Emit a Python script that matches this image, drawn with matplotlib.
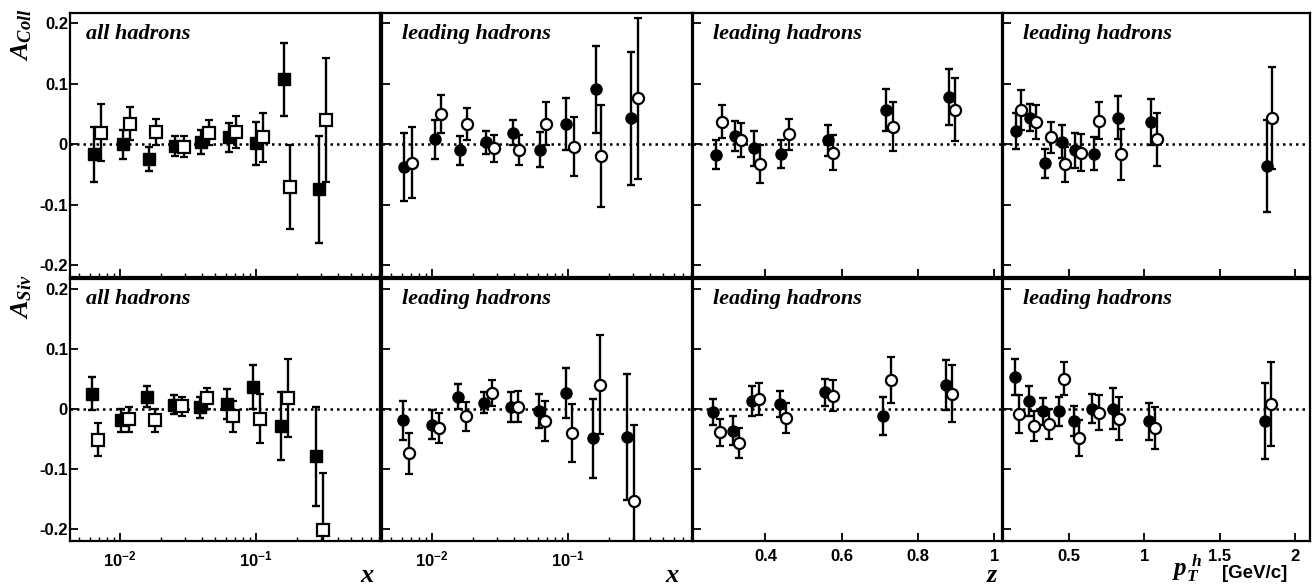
import numpy as np
import matplotlib
matplotlib.use("Agg")
import matplotlib.pyplot as plt
from matplotlib.ticker import LogLocator, NullFormatter, FixedLocator

plt.rcParams['mathtext.fontset'] = 'custom'
plt.rcParams['mathtext.it'] = 'Liberation Serif:italic:bold'
plt.rcParams['mathtext.rm'] = 'Liberation Serif:bold'
plt.rcParams['mathtext.bf'] = 'Liberation Sans:bold'

# ---- Collins, all hadrons vs x (filled / open squares)
coll_all_x_f = [0.0064, 0.0106, 0.0163, 0.0254, 0.0394, 0.063, 0.100, 0.161, 0.287]
coll_all_a_f = [-0.017, 0.000, -0.024, -0.003, 0.004, 0.011, 0.001, 0.107, -0.075]
coll_all_e_f = [0.045, 0.024, 0.020, 0.016, 0.020, 0.024, 0.036, 0.061, 0.088]
coll_all_x_o = [0.0072, 0.0119, 0.0184, 0.0294, 0.0454, 0.0705, 0.112, 0.176, 0.327]
coll_all_a_o = [0.019, 0.034, 0.020, -0.004, 0.019, 0.020, 0.011, -0.071, 0.040]
coll_all_e_o = [0.047, 0.027, 0.021, 0.018, 0.021, 0.027, 0.041, 0.069, 0.103]

# ---- Sivers, all hadrons vs x
siv_all_x_f = [0.0062, 0.0102, 0.0158, 0.0248, 0.0388, 0.0613, 0.0955, 0.153, 0.276]
siv_all_a_f = [0.026, -0.019, 0.021, 0.007, 0.003, 0.009, 0.037, -0.028, -0.079]
siv_all_e_f = [0.027, 0.019, 0.017, 0.016, 0.018, 0.025, 0.036, 0.057, 0.082]
siv_all_x_o = [0.0069, 0.0116, 0.0181, 0.0284, 0.0436, 0.068, 0.106, 0.171, 0.309]
siv_all_a_o = [-0.051, -0.017, -0.019, 0.005, 0.018, -0.012, -0.016, 0.018, -0.202]
siv_all_e_o = [0.028, 0.021, 0.019, 0.016, 0.018, 0.026, 0.041, 0.065, 0.096]

# ---- Collins, leading hadrons vs x (filled / open circles)
coll_lx_x_f = [0.0062, 0.0105, 0.0162, 0.0248, 0.0392, 0.0617, 0.097, 0.160, 0.289]
coll_lx_a_f = [-0.038, 0.008, -0.010, 0.003, 0.019, -0.009, 0.034, 0.091, 0.043]
coll_lx_e_f = [0.057, 0.032, 0.024, 0.019, 0.021, 0.029, 0.043, 0.072, 0.110]
coll_lx_x_o = [0.0071, 0.0117, 0.0182, 0.0286, 0.0438, 0.069, 0.110, 0.174, 0.325]
coll_lx_a_o = [-0.031, 0.050, 0.033, -0.007, -0.010, 0.034, -0.004, -0.020, 0.076]
coll_lx_e_o = [0.059, 0.032, 0.026, 0.022, 0.025, 0.035, 0.049, 0.084, 0.133]

# ---- Sivers, leading hadrons vs x
siv_lx_x_f = [0.0061, 0.0100, 0.0155, 0.0241, 0.038, 0.0607, 0.096, 0.153, 0.270]
siv_lx_a_f = [-0.019, -0.026, 0.021, 0.011, 0.004, -0.003, 0.027, -0.049, -0.046]
siv_lx_e_f = [0.033, 0.024, 0.021, 0.018, 0.025, 0.029, 0.042, 0.066, 0.105]
siv_lx_x_o = [0.0068, 0.0112, 0.0177, 0.0278, 0.0431, 0.0672, 0.107, 0.170, 0.303]
siv_lx_a_o = [-0.074, -0.031, -0.012, 0.027, 0.004, -0.020, -0.040, 0.041, -0.154]
siv_lx_e_o = [0.034, 0.025, 0.024, 0.021, 0.026, 0.033, 0.049, 0.082, 0.128]

# ---- Collins, leading hadrons vs z
coll_z_x_f = [0.269, 0.319, 0.371, 0.441, 0.563, 0.717, 0.882]
coll_z_a_f = [-0.018, 0.014, -0.007, -0.017, 0.006, 0.057, 0.078]
coll_z_e_f = [0.024, 0.025, 0.029, 0.023, 0.026, 0.035, 0.046]
coll_z_x_o = [0.287, 0.337, 0.386, 0.461, 0.578, 0.733, 0.896]
coll_z_a_o = [0.037, 0.007, -0.033, 0.016, -0.014, 0.029, 0.057]
coll_z_e_o = [0.027, 0.028, 0.031, 0.026, 0.029, 0.040, 0.052]

# ---- Sivers, leading hadrons vs z
siv_z_x_f = [0.262, 0.315, 0.365, 0.437, 0.557, 0.709, 0.874]
siv_z_a_f = [-0.005, -0.036, 0.013, 0.009, 0.028, -0.011, 0.040]
siv_z_e_f = [0.022, 0.024, 0.025, 0.022, 0.022, 0.032, 0.042]
siv_z_x_o = [0.280, 0.330, 0.383, 0.454, 0.576, 0.728, 0.889]
siv_z_a_o = [-0.039, -0.057, 0.017, -0.015, 0.022, 0.049, 0.026]
siv_z_e_o = [0.022, 0.025, 0.027, 0.025, 0.026, 0.038, 0.047]

# ---- Collins, leading hadrons vs pT
coll_pt_x_f = [0.146, 0.241, 0.341, 0.452, 0.540, 0.666, 0.821, 1.042, 1.813]
coll_pt_a_f = [0.022, 0.044, -0.032, 0.004, -0.010, -0.016, 0.044, 0.036, -0.036]
coll_pt_e_f = [0.030, 0.022, 0.024, 0.027, 0.029, 0.027, 0.035, 0.038, 0.076]
coll_pt_x_o = [0.181, 0.279, 0.380, 0.469, 0.578, 0.699, 0.845, 1.082, 1.850]
coll_pt_a_o = [0.057, 0.036, 0.011, -0.033, -0.014, 0.039, -0.017, 0.008, 0.043]
coll_pt_e_o = [0.033, 0.028, 0.026, 0.029, 0.031, 0.030, 0.042, 0.044, 0.085]

# ---- Sivers, leading hadrons vs pT
siv_pt_x_f = [0.137, 0.230, 0.329, 0.429, 0.529, 0.651, 0.794, 1.031, 1.802]
siv_pt_a_f = [0.053, 0.014, -0.004, -0.004, -0.020, 0.001, 0.001, -0.020, -0.020]
siv_pt_e_f = [0.030, 0.025, 0.022, 0.024, 0.025, 0.024, 0.034, 0.031, 0.063]
siv_pt_x_o = [0.163, 0.268, 0.363, 0.467, 0.562, 0.695, 0.832, 1.069, 1.839]
siv_pt_a_o = [-0.008, -0.028, -0.025, 0.051, -0.048, -0.006, -0.016, -0.031, 0.008]
siv_pt_e_o = [0.032, 0.025, 0.025, 0.027, 0.030, 0.029, 0.036, 0.035, 0.070]

panel_labels = ["all hadrons", "leading hadrons", "leading hadrons", "leading hadrons"]

W, H = 1315, 586
fig = plt.figure(figsize=(W / 100, H / 100), dpi=100)

lefts = [70, 382, 693, 1003]
widths = [310, 310, 309, 307]
rows = [(13, 277), (279, 541)]

tick_font = dict(family='Liberation Sans', weight='bold', size=12)
lab_font = dict(family='Liberation Serif', weight='bold', style='italic')


def draw(ax, xf, af, ef, xo, ao, eo, marker):
    ms = 8.5 if marker == 's' else 8
    ax.errorbar(xf, af, yerr=ef, fmt=marker, ms=ms, mfc='black', mec='black',
                ecolor='black', elinewidth=1.7, capsize=2.8, capthick=1.7, zorder=3)
    ax.errorbar(xo, ao, yerr=eo, fmt=marker, ms=ms, mfc='white', mec='black', mew=1.6,
                ecolor='black', elinewidth=1.7, capsize=2.8, capthick=1.7, zorder=4)


def style(ax, col, row):
    ax.set_ylim(-0.22, 0.217)
    ax.axhline(0, color='black', lw=1.8, ls=(0, (1, 1.6)), zorder=1)
    ax.set_yticks([-0.2, -0.1, 0, 0.1, 0.2])
    for s in ax.spines.values():
        s.set_linewidth(1.6)
    ax.tick_params(axis='both', which='major', direction='in', length=6, width=1.3,
                   top=False, right=False, pad=6)
    ax.tick_params(axis='both', which='minor', direction='in', length=3, width=1.0,
                   top=False, right=False)
    ax.tick_params(axis='y', pad=1.5)
    if col == 0:
        ax.set_yticklabels(['-0.2', '-0.1', '0', '0.1', '0.2'], fontdict=tick_font)
    else:
        ax.set_yticklabels([])
    if col < 2:
        ax.set_xscale('log')
        ax.set_xlim(0.0043, 0.81)
        ax.xaxis.set_major_locator(FixedLocator([0.01, 0.1]))
        ax.xaxis.set_minor_locator(LogLocator(base=10, subs=np.arange(2, 10)))
        ax.xaxis.set_minor_formatter(NullFormatter())
        labs = [r"$\mathbf{10^{-2}}$", r"$\mathbf{10^{-1}}$"]
    elif col == 2:
        ax.set_xlim(0.21, 1.02)
        ax.set_xticks([0.4, 0.6, 0.8, 1.0])
        labs = ['0.4', '0.6', '0.8', '1']
    else:
        ax.set_xlim(0.06, 2.1)
        ax.set_xticks([0.5, 1.0, 1.5, 2.0])
        labs = ['0.5', '1', '1.5', '2']
    if row == 1:
        ax.set_xticklabels(labs, fontdict=tick_font)
    else:
        ax.set_xticklabels([])
    ax.text(0.05 if col == 0 else 0.065, 0.96, panel_labels[col], transform=ax.transAxes,
            ha='left', va='top', fontsize=16, **lab_font)


data = [
    [(coll_all_x_f, coll_all_a_f, coll_all_e_f, coll_all_x_o, coll_all_a_o, coll_all_e_o, 's'),
     (coll_lx_x_f, coll_lx_a_f, coll_lx_e_f, coll_lx_x_o, coll_lx_a_o, coll_lx_e_o, 'o'),
     (coll_z_x_f, coll_z_a_f, coll_z_e_f, coll_z_x_o, coll_z_a_o, coll_z_e_o, 'o'),
     (coll_pt_x_f, coll_pt_a_f, coll_pt_e_f, coll_pt_x_o, coll_pt_a_o, coll_pt_e_o, 'o')],
    [(siv_all_x_f, siv_all_a_f, siv_all_e_f, siv_all_x_o, siv_all_a_o, siv_all_e_o, 's'),
     (siv_lx_x_f, siv_lx_a_f, siv_lx_e_f, siv_lx_x_o, siv_lx_a_o, siv_lx_e_o, 'o'),
     (siv_z_x_f, siv_z_a_f, siv_z_e_f, siv_z_x_o, siv_z_a_o, siv_z_e_o, 'o'),
     (siv_pt_x_f, siv_pt_a_f, siv_pt_e_f, siv_pt_x_o, siv_pt_a_o, siv_pt_e_o, 'o')],
]

for r, (top, bot) in enumerate(rows):
    for c in range(4):
        ax = fig.add_axes([lefts[c] / W, 1 - bot / H, widths[c] / W, (bot - top) / H])
        draw(ax, *data[r][c])
        style(ax, c, r)

# axis titles
fig.text(8 / W, 1 - 8 / H, r"$A_{Coll}$", rotation=90, ha='left', va='top', fontsize=19)
fig.text(8 / W, 1 - 274 / H, r"$A_{Siv}$", rotation=90, ha='left', va='top', fontsize=19)
for xp, s in [(367, "x"), (672, "x"), (992, "z")]:
    fig.text(xp / W, 1 - 575 / H, s, ha='center', va='center', fontsize=19, **lab_font)
fig.text(1172 / W, 1 - 568 / H, r"$p_T^{\;h}$", ha='left', va='center', fontsize=18)
fig.text(1222 / W, 1 - 574 / H, "[GeV/c]", ha='left', va='center', fontsize=13.5,
         family='Liberation Sans', weight='bold')

fig.savefig("out.png", dpi=100)
